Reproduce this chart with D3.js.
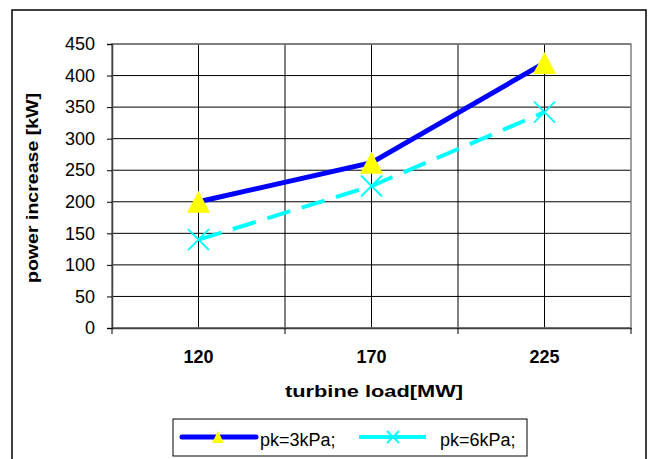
<!DOCTYPE html>
<html>
<head>
  <style>
    body, html { margin: 0; padding: 0; background: #fff; }
    text { font-family: "Liberation Sans", Arial, sans-serif; }
  </style>
</head>
<body>
  <svg id="svg" width="652" height="459"></svg>
  <script src="https://d3js.org/d3.v7.min.js"></script>
  <script>
    const loads = ["120", "170", "225"]
    const pk3 = [200, 262, 420]
    const pk6 = [140, 225, 342]
    const yTicks = [0, 50, 100, 150, 200, 250, 300, 350, 400, 450]

    const svg = d3.select("#svg")
    const plotL = 112, plotR = 631, plotT = 44, plotB = 328
    const font = "'Liberation Sans', Arial, sans-serif"

    // outer frame
    svg.append("rect")
      .attr("x", 12).attr("y", 10).attr("width", 634).attr("height", 460)
      .attr("fill", "none").attr("stroke", "#000").attr("stroke-width", 1.5)

    const x = d3.scaleBand().domain(loads).range([plotL, plotR])
    const y = d3.scaleLinear().domain([0, 450]).range([plotB, plotT])

    const grid = svg.append("g")
    grid.selectAll("line.h").data(yTicks).join("line")
      .attr("x1", plotL).attr("x2", plotR)
      .attr("y1", d => y(d)).attr("y2", d => y(d))
      .attr("stroke", "#000").attr("stroke-width", 1)
    // vertical grid at category centres and band edges
    const vlines = loads.map(d => x(d) + x.bandwidth() / 2)
      .concat(loads.slice(1).map(d => x(d)))
    grid.selectAll("line.v").data(vlines).join("line")
      .attr("x1", d => d).attr("x2", d => d)
      .attr("y1", plotT).attr("y2", plotB)
      .attr("stroke", "#000").attr("stroke-width", 1)

    svg.append("rect")
      .attr("x", plotL).attr("y", plotT).attr("width", plotR - plotL).attr("height", plotB - plotT)
      .attr("fill", "none").attr("stroke", "#808080").attr("stroke-width", 1.5)

    // y axis
    const yAxis = svg.append("g")
      .attr("transform", `translate(${plotL},0)`)
      .call(d3.axisLeft(y).tickValues(yTicks).tickSize(5).tickPadding(12))
    yAxis.select(".domain").attr("stroke", "#404040").attr("stroke-width", 1.5)
    yAxis.selectAll("text").attr("font-size", 18).attr("fill", "#000").style("font-family", font)

    // x axis
    const xAxis = svg.append("g")
      .attr("transform", `translate(0,${plotB})`)
      .call(d3.axisBottom(x).tickSize(0).tickPadding(22))
    xAxis.select(".domain").attr("stroke", "#404040").attr("stroke-width", 1.5)
    xAxis.selectAll("text").attr("font-size", 18).attr("font-weight", "bold").attr("fill", "#000")
      .style("font-family", font)
    const edges = [plotL].concat(loads.slice(1).map(d => x(d)), [plotR])
    svg.append("g").selectAll("line").data(edges).join("line")
      .attr("x1", d => d).attr("x2", d => d)
      .attr("y1", plotB).attr("y2", plotB + 6)
      .attr("stroke", "#000")

    // axis titles
    svg.append("text")
      .attr("x", 374).attr("y", 397)
      .attr("text-anchor", "middle").attr("font-size", 17).attr("font-weight", "bold")
      .attr("textLength", 178).attr("lengthAdjust", "spacingAndGlyphs")
      .text("turbine load[MW]")
    svg.append("text")
      .attr("transform", "translate(38,188) rotate(-90)")
      .attr("text-anchor", "middle").attr("font-size", 17).attr("font-weight", "bold")
      .attr("textLength", 190).attr("lengthAdjust", "spacingAndGlyphs")
      .text("power increase [kW]")

    const cx = d => x(d) + x.bandwidth() / 2
    const line = d3.line().x((d, i) => cx(loads[i])).y(d => y(d))

    svg.append("path").attr("d", line(pk6))
      .attr("fill", "none").attr("stroke", "#00FFFF").attr("stroke-width", 4)
      .attr("stroke-dasharray", "24,12")
    svg.append("path").attr("d", line(pk3))
      .attr("fill", "none").attr("stroke", "#0000FF").attr("stroke-width", 5)

    const triPath = (w, h) => `M0,${-h / 2}L${w / 2},${h / 2}L${-w / 2},${h / 2}Z`
    svg.append("g").selectAll("path").data(pk3).join("path")
      .attr("transform", (d, i) => `translate(${cx(loads[i])},${y(d)})`)
      .attr("d", triPath(23, 22)).attr("fill", "#FFFF00")

    const cross = (g, s) => g.append("path")
      .attr("d", `M${-s},${-s}L${s},${s}M${-s},${s}L${s},${-s}`)
      .attr("stroke", "#00FFFF").attr("stroke-width", 1.8).attr("fill", "none")
    svg.append("g").selectAll("g").data(pk6).join("g")
      .attr("transform", (d, i) => `translate(${cx(loads[i])},${y(d)})`)
      .each(function () { cross(d3.select(this), 10.5) })

    // legend
    const lg = svg.append("g")
    lg.append("rect").attr("x", 173).attr("y", 419).attr("width", 354).attr("height", 37)
      .attr("fill", "#fff").attr("stroke", "#000").attr("stroke-width", 1)
    lg.append("line").attr("x1", 182).attr("x2", 256).attr("y1", 437).attr("y2", 437)
      .attr("stroke", "#0000FF").attr("stroke-width", 5).attr("stroke-linecap", "round")
    lg.append("path").attr("transform", "translate(218,437)")
      .attr("d", triPath(12, 12)).attr("fill", "#FFFF00")
    lg.append("text").attr("x", 260).attr("y", 446).attr("font-size", 18).text("pk=3kPa;")
    lg.append("line").attr("x1", 359).attr("x2", 426).attr("y1", 437).attr("y2", 437)
      .attr("stroke", "#00FFFF").attr("stroke-width", 4)
    cross(lg.append("g").attr("transform", "translate(393,437)"), 6)
    lg.append("text").attr("x", 440).attr("y", 446).attr("font-size", 18).text("pk=6kPa;")
  </script>
</body>
</html>
